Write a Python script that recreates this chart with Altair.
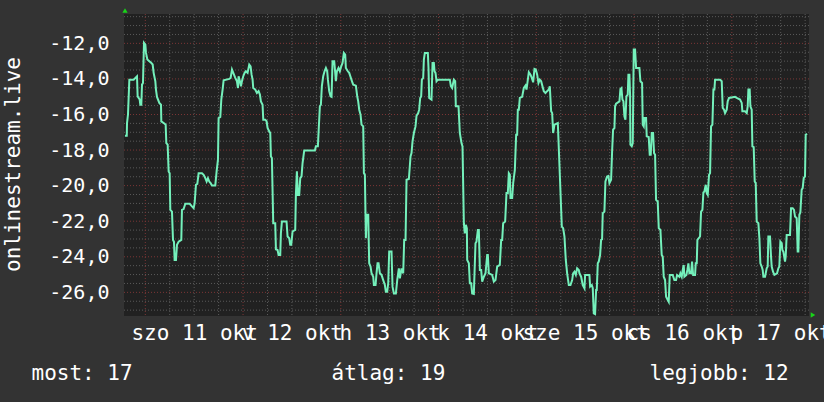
import json
import altair as alt
import pandas as pd

# Temperature trace: hours since 10 Oct 00:00 and readings in degrees
hours = [
    19.0, 19.45, 19.51, 19.75, 20.08, 21.14, 21.96, 22.12, 22.62, 22.78, 23.02, 23.19, 23.43, 23.68,
    24.01, 24.17, 24.5, 25.48, 25.81, 26.05, 26.46, 26.62, 26.87, 27.44, 27.85, 27.93, 28.75, 29.0,
    29.16, 29.49, 29.73, 29.98, 30.14, 30.55, 30.8, 31.04, 31.2, 31.53, 31.78, 32.19, 32.84, 33.0,
    33.41, 33.82, 34.89, 35.46, 35.87, 36.11, 36.44, 36.77, 37.09, 37.91, 38.32, 38.73, 39.06, 39.38,
    39.71, 40.04, 40.37, 41.18, 41.51, 41.84, 42.0, 42.41, 42.66, 42.98, 43.23, 44.62, 44.95, 45.28,
    45.6, 46.09, 46.5, 46.75, 46.9, 47.23, 47.48, 47.72, 48.05, 48.38, 48.7, 49.11, 49.52, 49.85,
    50.09, 50.34, 50.5, 50.99, 51.4, 51.81, 52.14, 52.38, 52.79, 52.96, 53.45, 53.78, 54.02, 54.43,
    54.68, 54.84, 55.08, 55.41, 55.9, 56.07, 56.48, 56.72, 57.13, 57.29, 57.54, 58.68, 58.93, 59.34,
    59.58, 59.83, 60.16, 60.81, 60.97, 61.22, 61.46, 61.79, 62.04, 62.36, 62.61, 63.02, 65.64, 65.88,
    66.37, 66.86, 67.11, 67.35, 67.68, 68.01, 68.34, 68.66, 68.83, 69.15, 69.48, 69.73, 69.97, 70.38,
    70.63, 70.79, 71.04, 71.44, 71.77, 72.1, 72.43, 72.75, 73.08, 73.24, 73.73, 74.06, 74.47, 74.88,
    75.05, 75.7, 76.03, 76.27, 76.52, 76.85, 77.09, 77.5, 77.67, 77.91, 78.07, 78.16, 78.32, 78.73,
    78.97, 79.3, 79.55, 79.96, 80.12, 80.53, 80.77, 81.02, 81.26, 81.59, 82.0, 82.41, 82.82, 83.06,
    83.39, 83.64, 83.88, 84.45, 84.7, 85.03, 85.52, 85.85, 86.25, 86.5, 86.91, 87.32, 87.56, 87.89,
    88.14, 88.71, 89.12, 89.36, 89.61, 89.94, 90.34, 90.59, 91.0, 91.24, 91.49, 91.73, 91.9, 92.23,
    92.39, 92.63, 93.37, 93.53, 93.7, 94.27, 94.52, 94.84, 95.01, 95.25, 95.5, 95.83, 98.77, 99.02,
    99.34, 99.75, 100.08, 100.24, 100.9, 101.22, 101.63, 101.88, 102.21, 102.45, 102.7, 102.95, 103.03, 103.44,
    103.68, 104.01, 104.25, 104.66, 105.07, 105.32, 105.65, 105.89, 106.14, 106.46, 106.71, 107.12, 107.53, 107.94,
    108.1, 108.34, 109.16, 109.57, 109.98, 110.39, 111.04, 111.37, 111.62, 111.86, 112.35, 112.68, 113.01, 113.25,
    113.5, 113.66, 114.07, 114.32, 114.73, 115.05, 115.3, 115.46, 115.71, 115.95, 116.52, 116.93, 117.34, 117.59,
    117.92, 118.16, 118.57, 118.9, 119.22, 119.55, 119.88, 120.21, 120.53, 120.86, 121.19, 121.51, 121.84, 122.25,
    122.66, 123.07, 123.31, 123.64, 123.89, 124.13, 124.46, 125.28, 125.6, 125.93, 126.26, 126.59, 126.91, 127.24,
    127.57, 127.98, 128.39, 128.8, 129.04, 129.37, 129.7, 130.02, 130.43, 130.59, 131.0, 131.41, 131.82, 131.98,
    133.04, 133.21, 133.62, 133.86, 134.11, 134.43, 134.68, 134.84, 135.09, 135.33, 135.66, 135.91, 136.15, 136.31,
    136.72, 136.97, 137.38, 137.71, 137.95, 138.36, 138.61, 138.85, 139.18, 139.34, 139.59, 140.41, 140.65, 140.9,
    141.14, 141.39, 141.63, 141.88, 142.12, 142.45, 142.61, 142.86, 143.02, 143.1, 143.43, 143.68, 143.92, 144.25,
    144.5, 145.31, 145.56, 145.97, 146.13, 146.38, 146.54, 146.95, 147.11, 147.6, 147.85, 148.09, 148.34, 148.67,
    148.91, 149.16, 149.4, 149.81, 150.06, 150.47, 150.79, 151.04, 151.28, 151.61, 151.86, 152.27, 152.51, 152.76,
    153.49, 153.9, 154.31, 154.56, 155.13, 155.37, 155.7, 155.95, 156.19, 156.36, 156.85, 157.09, 157.34, 157.58,
    157.99, 158.24, 158.5, 158.98, 159.14, 159.39, 159.55, 160.2, 160.45, 160.78, 161.02, 161.27, 161.6, 161.84,
    162.09, 162.41, 162.66, 162.9, 163.23, 163.48, 163.72, 163.89, 165.11, 165.52, 165.77, 166.09, 166.34, 166.75,
    166.99, 167.32, 168.79, 169.2, 170.02, 170.43, 170.59, 171.25, 171.66, 171.9, 172.07, 172.39, 172.56, 172.88,
    173.05, 173.37, 173.62, 173.87, 174.11, 174.52, 174.77, 175.01, 175.34, 175.58, 175.75, 176.16, 176.56, 176.81,
    176.97, 177.38, 177.63, 177.79, 178.12, 178.45, 179.1, 179.43, 179.67, 179.92, 180.25, 180.41, 180.66, 181.06,
    181.23, 181.47, 182.29, 182.54, 182.95, 183.27, 183.52, 183.93, 184.17, 184.34, 184.58, 184.83, 185.15, 185.4,
    185.65, 185.97, 186.14, 186.46,
]
temps = [
    -17.19, -17.19, -16.48, -16.0, -14.04, -14.04, -13.85, -14.98, -15.16, -15.45, -15.45, -14.32, -14.23, -11.97,
    -12.07, -12.54, -12.91, -13.1, -13.19, -13.66, -14.13, -14.6, -15.01, -15.35, -15.45, -16.39, -16.52, -16.57,
    -17.61, -17.7, -19.2, -19.3, -21.36, -21.46, -23.05, -23.15, -24.18, -24.18, -23.33, -23.15, -23.05, -21.36,
    -21.32, -21.02, -21.02, -21.17, -21.27, -20.99, -19.95, -19.9, -19.3, -19.3, -19.39, -19.58, -19.77, -19.58,
    -19.77, -19.86, -19.99, -19.99, -19.2, -18.54, -16.2, -16.14, -15.16, -14.6, -14.08, -14.0, -13.94, -13.47,
    -13.66, -13.94, -14.13, -14.51, -13.85, -14.13, -14.41, -14.13, -13.85, -13.66, -13.57, -13.66, -13.19, -13.29,
    -13.76, -14.04, -14.51, -14.6, -14.79, -14.69, -14.88, -15.26, -15.45, -16.29, -16.29, -16.38, -16.76, -16.95,
    -17.04, -18.36, -18.45, -22.11, -22.11, -23.58, -23.62, -23.9, -23.9, -22.68, -22.02, -22.02, -22.86, -22.96,
    -23.33, -23.33, -22.58, -22.49, -20.52, -19.2, -20.52, -20.52, -19.58, -19.48, -18.73, -18.02, -18.02, -17.79,
    -17.79, -15.54, -15.45, -14.41, -13.85, -13.57, -13.38, -13.57, -14.04, -14.69, -14.98, -15.01, -13.0, -13.0,
    -13.66, -14.13, -13.57, -13.38, -13.57, -13.29, -13.1, -12.54, -12.63, -13.38, -13.57, -13.66, -13.94, -14.23,
    -14.32, -14.38, -14.98, -15.26, -15.73, -16.01, -16.57, -16.67, -19.3, -19.39, -21.74, -22.96, -21.64, -21.64,
    -24.37, -24.55, -24.93, -25.12, -25.59, -25.59, -24.93, -24.37, -24.37, -24.93, -25.02, -25.31, -25.59, -25.96,
    -25.96, -25.49, -23.71, -23.71, -25.68, -26.06, -26.06, -25.31, -24.65, -25.21, -24.65, -24.93, -23.05, -23.05,
    -19.67, -19.63, -18.36, -18.17, -17.51, -17.04, -16.67, -16.07, -15.92, -15.73, -15.07, -14.98, -14.04, -13.94,
    -12.91, -12.54, -12.54, -13.38, -15.07, -15.16, -13.1, -13.1, -13.57, -13.66, -14.13, -14.04, -14.04, -14.41,
    -14.51, -14.04, -14.13, -15.54, -15.54, -17.04, -17.61, -17.79, -22.11, -22.68, -22.2, -22.4, -24.18, -24.37,
    -25.49, -25.49, -26.06, -26.09, -23.24, -23.15, -22.49, -22.49, -24.74, -24.74, -25.4, -25.12, -24.93, -23.9,
    -23.9, -24.93, -25.02, -25.4, -25.31, -24.55, -24.46, -23.05, -23.05, -22.11, -22.02, -20.42, -20.42, -19.3,
    -19.39, -20.7, -20.7, -19.86, -19.11, -17.14, -17.14, -15.73, -15.73, -15.07, -15.01, -14.51, -14.38, -14.6,
    -14.04, -13.62, -13.76, -13.94, -14.19, -13.44, -13.47, -13.76, -14.23, -14.04, -14.13, -14.41, -14.69, -14.79,
    -14.69, -14.6, -14.41, -15.82, -15.92, -17.04, -16.57, -16.48, -18.36, -20.33, -22.3, -22.39, -22.86, -24.18,
    -24.93, -25.59, -25.59, -25.31, -24.93, -24.84, -25.02, -24.65, -24.74, -24.93, -25.12, -25.59, -25.77, -25.02,
    -25.02, -25.68, -25.59, -25.77, -27.18, -27.22, -25.87, -25.87, -24.37, -24.27, -23.9, -23.05, -23.01, -21.55,
    -21.46, -19.77, -19.48, -19.45, -19.86, -19.67, -18.08, -16.85, -16.76, -15.54, -15.39, -15.26, -14.56, -14.51,
    -15.16, -15.26, -16.1, -16.29, -14.98, -14.88, -13.76, -13.76, -14.88, -17.7, -17.79, -17.61, -12.35, -12.35,
    -13.38, -13.38, -14.13, -14.23, -16.57, -16.67, -16.2, -16.2, -17.23, -17.27, -18.26, -18.26, -17.04, -17.04,
    -18.17, -18.26, -20.8, -20.89, -22.39, -22.49, -23.9, -23.99, -25.12, -25.31, -26.24, -26.43, -26.53, -25.02,
    -25.02, -25.31, -25.31, -25.02, -25.12, -24.93, -25.12, -24.74, -24.46, -25.12, -25.02, -24.74, -24.37, -24.93,
    -24.93, -24.27, -25.02, -25.02, -24.37, -24.37, -23.05, -22.86, -21.46, -21.36, -20.38, -20.33, -19.95, -20.42,
    -20.52, -19.39, -19.3, -16.67, -16.57, -14.6, -14.6, -14.04, -14.04, -14.13, -15.63, -15.73, -15.92, -15.73,
    -15.26, -15.07, -15.01, -15.07, -15.16, -15.35, -15.82, -15.82, -15.92, -15.54, -14.6, -14.6, -15.54, -15.73,
    -17.79, -17.83, -19.77, -19.86, -22.02, -22.11, -22.96, -24.37, -24.55, -24.74, -25.12, -25.12, -24.65, -24.55,
    -22.86, -22.86, -23.99, -24.55, -24.84, -25.02, -24.93, -24.65, -24.55, -23.15, -23.24, -23.62, -23.71, -24.27,
    -23.99, -22.77, -22.77, -21.27, -21.27, -21.36, -21.74, -21.83, -23.71, -23.71, -21.64, -21.51, -20.23, -20.14,
    -19.58, -19.48, -17.14, -17.08,
]

# Day labels, centred on noon of each day
day_labels = ["szo 11 okt", "v 12 okt", "h 13 okt", "k 14 okt", "sze 15 okt", "cs 16 okt", "p 17 okt"]
label_hours = [36, 60, 84, 108, 132, 156, 180]
y_label_values = [-26, -24, -22, -20, -18, -16, -14, -12]

# Summary line under the graph
legend_names = ["most", "átlag", "legjobb"]
legend_values = [17, 19, 12]

series_name = "onlinestream.live"

X_DOMAIN = [18.77, 186.95]
Y_DOMAIN = [-27.33, -10.35]
W, H = 685, 302

BG = "#333333"
CANVAS = "#212121"
LINE = "#74f0bb"
MINOR = "#5a5a5a"
MAJOR = "#7c3636"
TEXT = "#ffffff"
ARROW = "#19d419"
FONT = "DejaVu Sans Mono"

xs = alt.Scale(domain=X_DOMAIN, nice=False, zero=False)
ys = alt.Scale(domain=Y_DOMAIN, nice=False, zero=False)

x_label_expr = f"{json.dumps(day_labels)}[indexof({json.dumps(label_hours)}, datum.value)]"
y_label_expr = "(datum.value < 0 ? '-' : '') + replace(format(abs(datum.value), '.1f'), '.', ',')"

# one shared axis definition per channel, used by every layer
x_axis = alt.Axis(
    values=label_hours,
    labelExpr=x_label_expr,
    grid=False,
    domain=False,
    ticks=False,
    tickSize=0,
    labelPadding=23,
    labelBaseline="alphabetic",
    labelAlign="center",
    labelFlush=False,
    labelOverlap=False,
    labelFont=FONT,
    labelFontSize=21,
    labelColor=TEXT,
    title=None,
)
y_axis = alt.Axis(
    values=y_label_values,
    labelExpr=y_label_expr,
    grid=False,
    domain=False,
    ticks=False,
    tickSize=0,
    labelPadding=15,
    labelFont=FONT,
    labelFontSize=20,
    labelColor=TEXT,
    title=series_name,
    titleFont=FONT,
    titleFontSize=21,
    titleFontWeight="normal",
    titleColor=TEXT,
    titleAngle=270,
    titleAlign="center",
    titleBaseline="alphabetic",
    titleX=-105,
    titleY=150,
)

# grid positions: every 6 hours / half degree, midnight and even degrees highlighted
minor_h = [h for h in range(24, 187, 6) if h % 24 != 0]
major_h = [h for h in range(24, 187, 24)]
minor_v = [v / 2 for v in range(-54, -20) if v % 4 != 0]
major_v = [v for v in range(-26, -11, 2)]


def vrules(vals, color):
    return alt.Chart(pd.DataFrame({"h": vals})).mark_rule(
        color=color, strokeWidth=1, strokeDash=[1, 2]
    ).encode(x=alt.X("h:Q", scale=xs, axis=x_axis))


def hrules(vals, color):
    return alt.Chart(pd.DataFrame({"t": vals})).mark_rule(
        color=color, strokeWidth=1, strokeDash=[1, 2]
    ).encode(y=alt.Y("t:Q", scale=ys, axis=y_axis))


df = pd.DataFrame({"h": hours, "t": temps})

line = alt.Chart(df).mark_line(color=LINE, strokeWidth=2, clip=True).encode(
    x=alt.X("h:Q", scale=xs, axis=x_axis),
    y=alt.Y("t:Q", scale=ys, axis=y_axis),
)

one = pd.DataFrame({"k": [0]})


def legend_text(i, xpos):
    return alt.Chart(one).mark_text(
        align="left", baseline="alphabetic", font=FONT, fontSize=21, color=TEXT
    ).encode(
        x=alt.value(xpos),
        y=alt.value(366),
        text=alt.value(f"{legend_names[i]}: {legend_values[i]}"),
    )


arrow_up = alt.Chart(one).mark_point(
    shape="triangle-up", filled=True, color=ARROW, size=28, opacity=1
).encode(x=alt.value(1), y=alt.value(-3.5))
arrow_right = alt.Chart(one).mark_point(
    shape="triangle-right", filled=True, color=ARROW, size=28, opacity=1
).encode(x=alt.value(689), y=alt.value(301))

chart = alt.layer(
    vrules(minor_h, MINOR),
    hrules(minor_v, MINOR),
    vrules(major_h, MAJOR),
    hrules(major_v, MAJOR),
    line,
    legend_text(0, -92.5),
    legend_text(1, 207.5),
    legend_text(2, 525.5),
    arrow_up,
    arrow_right,
).properties(
    width=W,
    height=H,
    background=BG,
    autosize=alt.AutoSizeParams(type="none"),
    padding={"left": 124, "top": 14, "right": 15, "bottom": 86},
).configure_view(fill=CANVAS, stroke=None)

chart.save("out.html", embed_options={"renderer": "svg", "actions": False})
